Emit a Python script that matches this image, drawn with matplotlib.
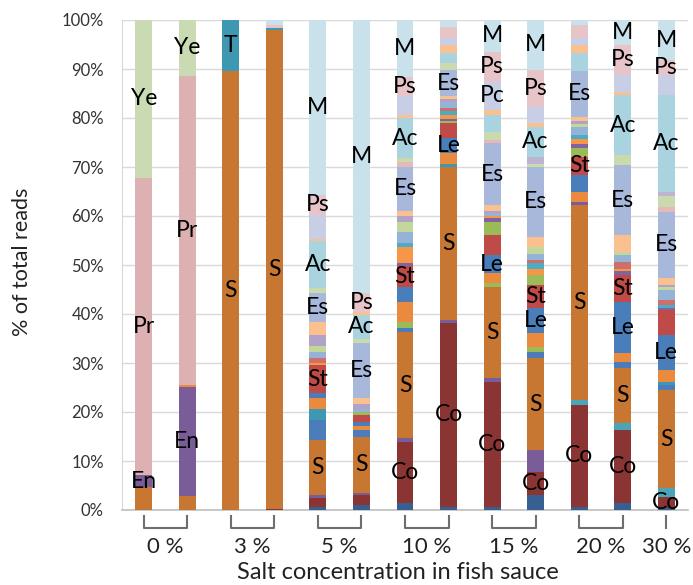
import matplotlib
matplotlib.use("Agg")
import matplotlib.pyplot as plt
import matplotlib.transforms as mtransforms
import numpy as np

plt.rcParams['font.family'] = ['Lato', 'DejaVu Sans']

# ---------------- data (percent of total reads, 13 samples) ----------------
groups = ['0 %', '3 %', '5 %', '10 %', '15 %', '20 %', '30 %']
group_bars = [(0, 1), (2, 3), (4, 5), (6, 7), (8, 9), (10, 11), (12, 12)]
y_ticks = [0, 10, 20, 30, 40, 50, 60, 70, 80, 90, 100]
y_tick_labels = ['0%', '10%', '20%', '30%', '40%', '50%', '60%', '70%', '80%', '90%', '100%']

Base  = [0, 0, 0, 0, 0.7, 1.0, 1.4, 0.7, 0.7, 3.1, 0.7, 1.4, 0.4]
Co    = [0, 0, 0, 0.3, 1.7, 2.0, 12.5, 37.4, 25.5, 4.7, 20.7, 14.9, 2.3]
PuLow = [0, 0, 0, 0, 0.6, 0.4, 0.7, 0.7, 0.7, 4.4, 0, 0, 0]
TeLow = [0, 0, 0, 0, 0, 0, 0, 0, 0, 0, 1.0, 1.4, 1.7]
S     = [4.6, 2.9, 89.5, 97.7, 11.3, 11.6, 21.8, 31.3, 18.7, 18.8, 39.8, 11.2, 20.1]
En    = [2.5, 22.3, 0, 0, 0, 0, 0, 0, 0, 0, 0.7, 0, 0]
Blue2 = [0, 0, 0, 0, 4.1, 1.4, 0.7, 0, 0, 1.3, 0, 1.4, 1.0]
T     = [0, 0, 10.5, 0.3, 2.3, 0, 0, 0.6, 0, 0, 0, 0, 0.7]
GrLow = [0, 0, 0, 0, 0, 0, 1.3, 0, 0.7, 1.0, 0, 0, 0]
Or    = [0, 0.3, 0, 0, 2.1, 0.7, 4.1, 2.1, 2.0, 2.8, 2.0, 1.7, 2.4]
Le    = [0, 0, 0, 0, 1.0, 0.9, 3.1, 3.1, 3.7, 5.1, 3.5, 10.5, 7.1]
St    = [0, 0, 0, 0, 5.8, 1.4, 4.1, 3.0, 4.1, 4.7, 3.7, 5.5, 5.1]
Gr    = [0, 0, 0, 0, 0, 0.6, 0, 0.5, 2.7, 2.0, 1.7, 0, 0]
PuHi  = [0, 0, 0, 0, 0, 0, 0.7, 0.4, 0.7, 0, 0.8, 0.7, 0.4]
Or2   = [0, 0, 0, 0, 0.5, 0, 3.3, 0.8, 0.5, 1.2, 1.2, 0.4, 0]
TeHi  = [0, 0, 0, 0, 0, 0, 0.7, 0.8, 0, 1.4, 0.8, 0, 0.6]
Sa    = [0, 0, 0, 0, 1.0, 0, 0, 0.6, 0, 0.5, 0, 1.6, 1.1]
LB    = [0, 0, 0, 0, 1.2, 0.7, 2.3, 1.2, 0.6, 1.3, 1.5, 1.3, 2.0]
LG    = [0, 0, 0, 0, 1.2, 0, 2.0, 0, 0, 1.3, 0.6, 0.6, 0.6]
LP    = [0, 0, 0, 0, 2.2, 1.0, 1.4, 0.6, 0.5, 0, 0.6, 0, 0.4]
Pe    = [0, 0, 0, 0, 2.7, 1.1, 1.0, 0.6, 1.1, 2.2, 1.0, 3.5, 1.4]
Es    = [0, 0, 0, 0, 5.8, 11.2, 9.0, 5.4, 12.6, 14.3, 9.2, 14.3, 13.6]
Pk    = [0, 0, 0, 0, 0, 0, 1.0, 0, 0.7, 0, 0, 0, 1.0]
LG2   = [0, 0, 0, 0, 1.1, 1.0, 0.7, 1.4, 1.7, 0.5, 0, 2.0, 2.1]
LP2   = [0, 0, 0, 0, 0, 0, 0, 0, 0, 1.5, 0, 0, 1.0]
Ac    = [0, 0, 0, 0, 9.5, 4.8, 8.1, 2.0, 3.4, 6.1, 3.7, 12.3, 19.7]
Pe2   = [0, 0, 0, 0, 0.6, 0.7, 0.7, 1.7, 1.0, 0.7, 1.7, 0.7, 0]
Pc    = [0, 0, 0, 0, 4.8, 0, 3.8, 1.4, 5.8, 3.4, 1.4, 3.4, 4.1]
Pr    = [60.7, 63.1, 0, 0, 0, 0, 0, 0, 0, 0, 0, 0, 0]
Ps    = [0, 0, 0, 0.6, 4.1, 3.7, 4.0, 2.3, 6.1, 7.5, 2.7, 6.1, 3.0]
Ye    = [32.2, 11.4, 0, 0, 0, 0, 0, 0, 0, 0, 0, 0, 0]
M     = [0, 0, 0, 1.1, 35.7, 55.8, 11.6, 1.4, 6.5, 10.2, 1.0, 5.1, 8.2]

# taxa labelled inside each bar
bar_labels = [
    ['En', 'Pr', 'Ye'],
    ['En', 'Pr', 'Ye'],
    ['S', 'T'],
    ['S'],
    ['S', 'St', 'Es', 'Ac', 'Ps', 'M'],
    ['S', 'Es', 'Ac', 'Ps', 'M'],
    ['Co', 'S', 'St', 'Es', 'Ac', 'Ps', 'M'],
    ['Co', 'S', 'Le', 'Es'],
    ['Co', 'S', 'Le', 'Es', 'Pc', 'Ps', 'M'],
    ['Co', 'S', 'Le', 'St', 'Es', 'Ac', 'Ps', 'M'],
    ['Co', 'S', 'St', 'Es'],
    ['Co', 'S', 'Le', 'St', 'Es', 'Ac', 'Ps', 'M'],
    ['Co', 'S', 'Le', 'Es', 'Ac', 'Ps', 'M'],
]

# ---------------- styling ----------------
stack = [
    ('Base', Base, '#375F92'), ('Co', Co, '#8B3434'), ('PuLow', PuLow, '#7A5C99'),
    ('TeLow', TeLow, '#4BA5B8'), ('S', S, '#C87733'), ('En', En, '#7A5C99'),
    ('Blue2', Blue2, '#4A7DBA'), ('T', T, '#3E98B1'), ('GrLow', GrLow, '#9BBB59'),
    ('Or', Or, '#E98A3E'), ('Le', Le, '#4A7EBB'), ('St', St, '#BE4B48'),
    ('Gr', Gr, '#9BBB59'), ('PuHi', PuHi, '#8064A2'), ('Or2', Or2, '#F79646'),
    ('TeHi', TeHi, '#4BACC6'), ('Sa', Sa, '#CF6F6C'), ('LB', LB, '#95B3D7'),
    ('LG', LG, '#C3D69B'), ('LP', LP, '#B3A2C7'), ('Pe', Pe, '#FAC090'),
    ('Es', Es, '#A8B8DA'), ('Pk', Pk, '#E6B9B8'), ('LG2', LG2, '#C8DAAE'),
    ('LP2', LP2, '#BFB3D3'), ('Ac', Ac, '#A9D4DF'), ('Pe2', Pe2, '#FAC090'),
    ('Pc', Pc, '#C8CEE6'), ('Pr', Pr, '#DDB1B2'), ('Ps', Ps, '#E6C4C7'),
    ('Ye', Ye, '#CADBB3'), ('M', M, '#C8E1EA'),
]

n = len(S)
x = np.arange(n)
W, H = 693, 585
fig = plt.figure(figsize=(W / 100, H / 100), dpi=100)
ax = fig.add_axes([122 / W, 1 - 510 / H, (688 - 122) / W, 490 / H])

bottom = np.zeros(n)
centers = {}
for name, vals, col in stack:
    v = np.array(vals, dtype=float)
    ax.bar(x, v, width=0.39, bottom=bottom, color=col, linewidth=0, zorder=3)
    centers[name] = bottom + v / 2
    bottom = bottom + v

for i, names in enumerate(bar_labels):
    for nm in names:
        ax.text(x[i], centers[nm][i], nm, ha='center', va='center',
                fontsize=16.5, color='black', zorder=5)

ax.set_xlim(-0.5, n - 0.5)
ax.set_ylim(0, 100)
ax.set_yticks(y_ticks)
ax.set_yticklabels(y_tick_labels, fontsize=12, color='#333333')
ax.set_xticks([])
ax.tick_params(axis='y', length=0, pad=13)
ax.yaxis.grid(True, color='#D9D9D9', linewidth=1.0, zorder=0)
ax.set_axisbelow(True)
for sp in ['top', 'right']:
    ax.spines[sp].set_visible(False)
ax.spines['left'].set_color('#D9D9D9')
ax.spines['bottom'].set_color('#BFBFBF')
ax.spines['bottom'].set_linewidth(1.2)

# group brackets
trans = mtransforms.blended_transform_factory(ax.transData, ax.transAxes)
y_top = -6 / 490
y_bot = -18 / 490
for g, (a, b) in zip(groups, group_bars):
    if a == b:
        ax.plot([x[a], x[a]], [y_top, y_bot], color='#6E6E6E', lw=1.5,
                transform=trans, clip_on=False)
    else:
        ax.plot([x[a], x[a], x[b], x[b]], [y_top, y_bot, y_bot, y_top],
                color='#6E6E6E', lw=1.5, transform=trans, clip_on=False)
    ax.text((x[a] + x[b]) / 2, -37 / 490, g, transform=trans, ha='center',
            va='center', fontsize=16, color='#222222')

fig.text((122 + 688) / 2 / W - 0.01, 2 / H, 'Salt concentration in fish sauce',
         ha='center', va='bottom', fontsize=17, color='#222222')
fig.text(22 / W, 1 - 262 / H, '% of total reads', rotation=90, ha='center',
         va='center', fontsize=15.5, color='#222222')

fig.savefig('out.png', dpi=100)
